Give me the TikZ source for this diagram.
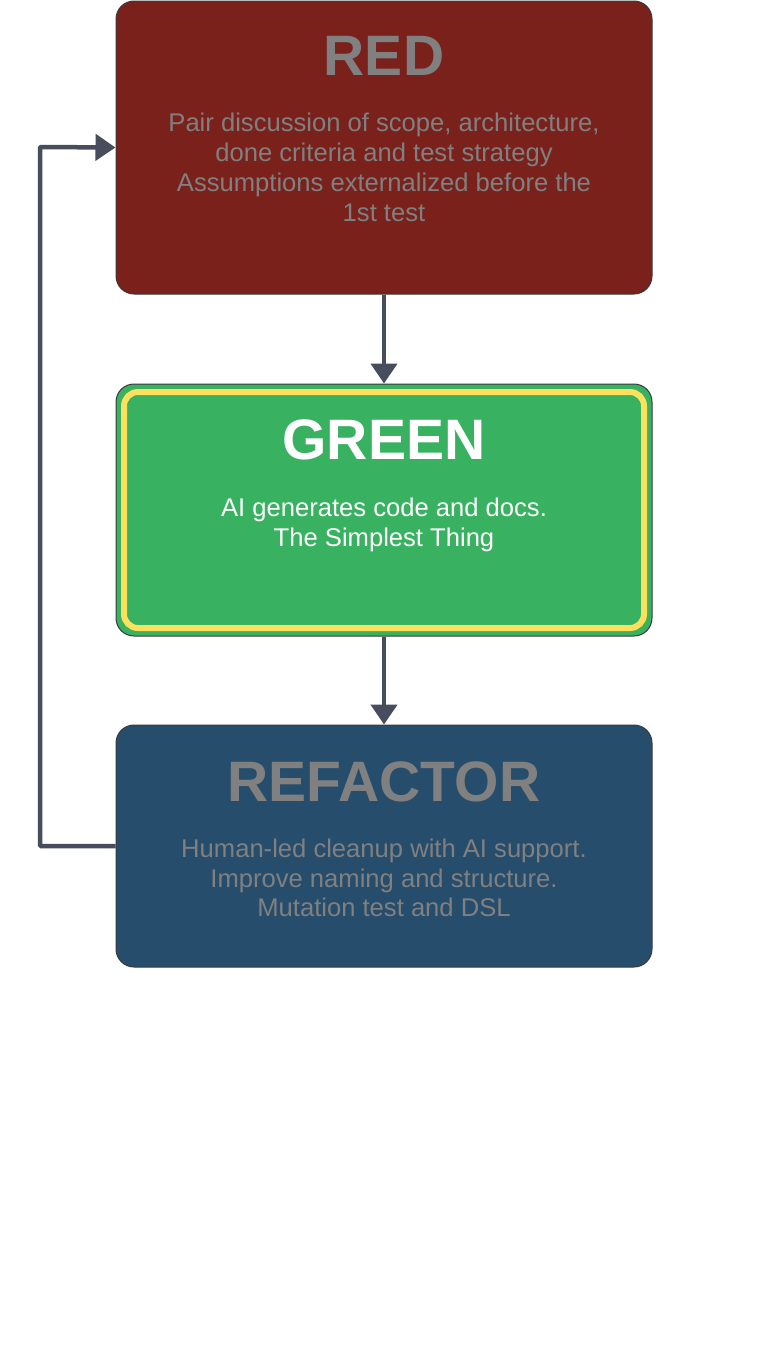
\documentclass[tikz,border=0pt]{standalone}
\usepackage{fontspec}
\setmainfont{Liberation Sans}
\usetikzlibrary{arrows.meta}
\definecolor{redbox}{HTML}{7A211C}
\definecolor{greenbox}{HTML}{38B261}
\definecolor{bluebox}{HTML}{274D6D}
\definecolor{yellowrim}{HTML}{FDE05B}
\definecolor{graytext}{HTML}{808080}
\definecolor{arrowcol}{HTML}{474D5C}
\definecolor{edgecol}{HTML}{3A3A3A}
\tikzset{
  stagebox/.style={draw=edgecol, line width=1pt, rounded corners=18pt, minimum width=536pt, inner sep=0pt},
  titletext/.style={font=\fontsize{57}{60}\selectfont\bfseries, inner sep=0pt},
  bodytext/.style={font=\fontsize{25.6}{29.8}\selectfont, align=center, inner sep=0pt},
  flow/.style={draw=arrowcol, line width=4.5pt, -{Triangle[length=20pt,width=26pt]}},
}
\begin{document}
\begin{tikzpicture}[x=1pt,y=-1pt]
\useasboundingbox[fill=white] (0,0) rectangle (768,1365);
% boxes
\node[stagebox, fill=redbox, minimum height=293pt] (red) at (384,147.5) {};
\node[stagebox, fill=greenbox, minimum height=252pt] (green) at (384,510) {};
\draw[yellowrim, line width=6pt, rounded corners=14pt] (124,392) rectangle (644,628);
\node[stagebox, fill=bluebox, minimum height=242pt] (refactor) at (384,846) {};
% texts
\node[titletext, text=graytext] (redt) at (384,56) {RED};
\node[bodytext, text=graytext, anchor=north] (redb) at (384,113) {Pair discussion of scope, architecture,\\done criteria and test strategy\\Assumptions externalized before the\\1st test};
\node[titletext, text=white] (greent) at (384,440) {GREEN};
\node[bodytext, text=white, anchor=north] (greenb) at (384,497.5) {AI generates code and docs.\\The Simplest Thing};
\node[titletext, text=graytext] (reft) at (384,782) {REFACTOR};
\node[bodytext, text=graytext, anchor=north] (refb) at (384,838.5) {Human-led cleanup with AI support.\\Improve naming and structure.\\Mutation test and DSL};
% connectors
\draw[flow] (red.south) -- (green.north);
\draw[flow] (green.south) -- (refactor.north);
\coordinate (lb) at (40,846);
\coordinate (lt) at (40,147);
\draw[flow, rounded corners=1pt] (refactor.west) -- (lb) -- (lt) -- (red.west);
\end{tikzpicture}
\end{document}
